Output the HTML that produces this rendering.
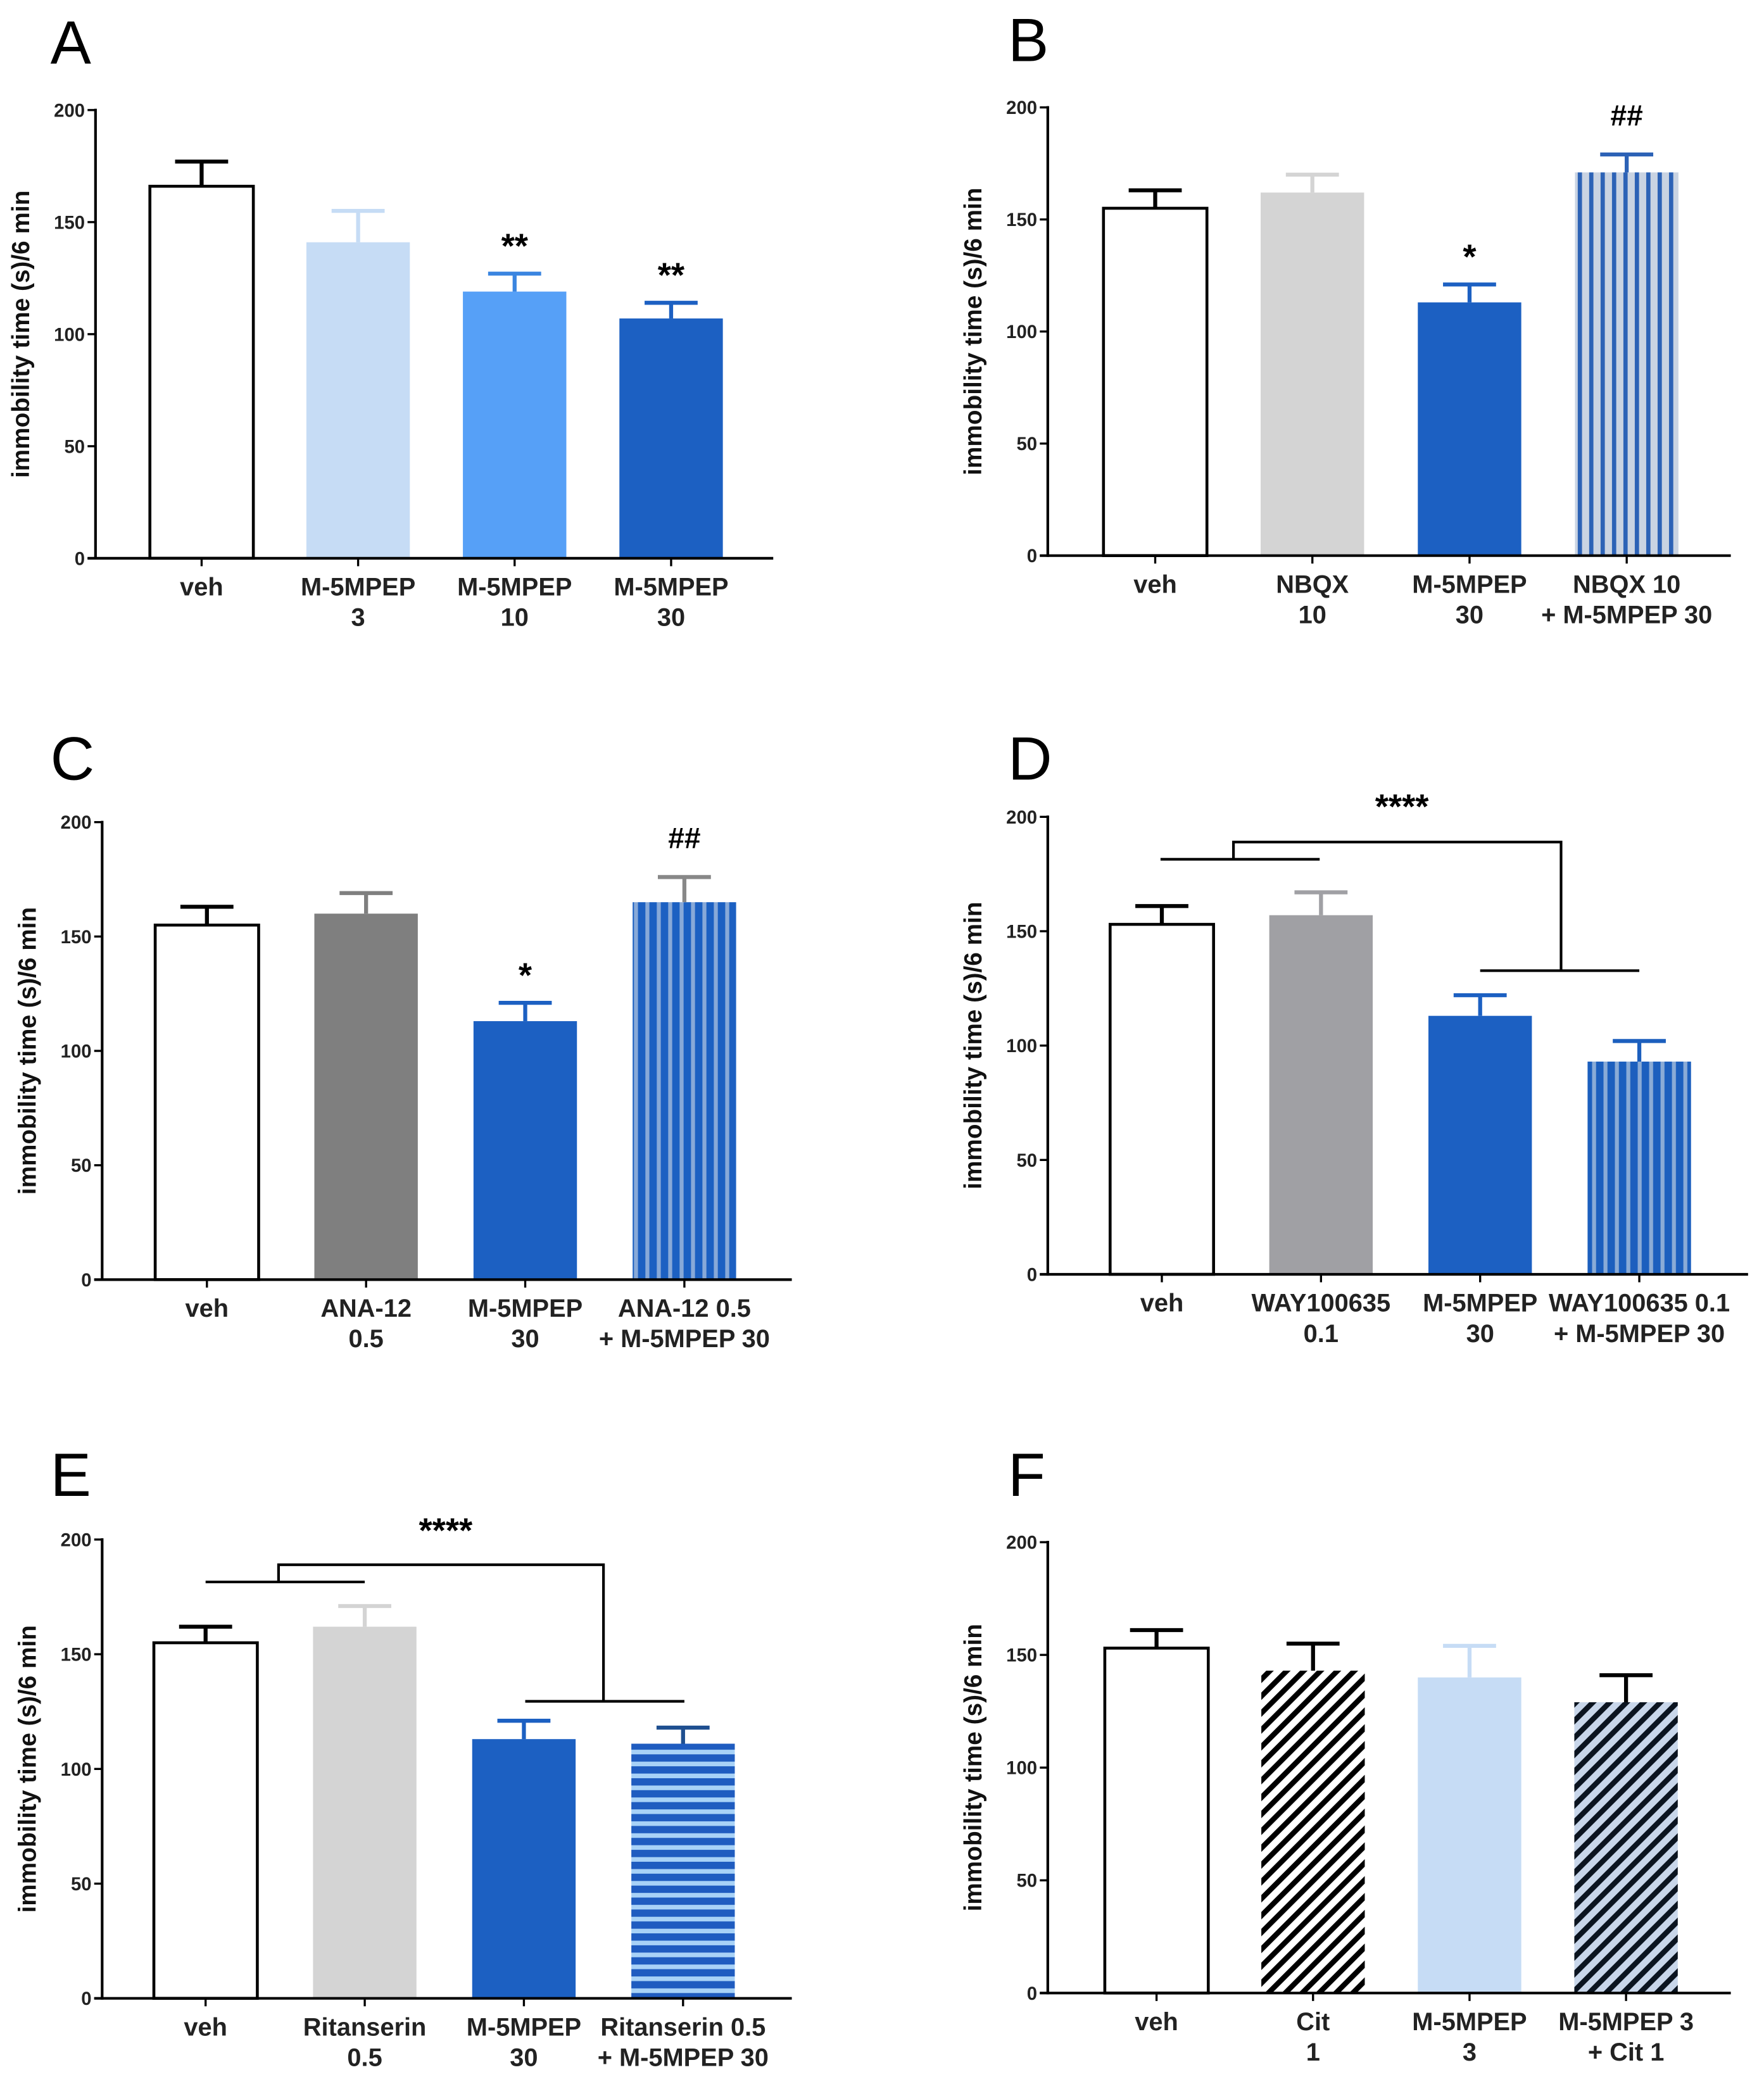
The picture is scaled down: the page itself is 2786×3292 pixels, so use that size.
<!DOCTYPE html>
<html><head><meta charset="utf-8"><style>
html,body{margin:0;padding:0;background:#fff;}
svg{display:block;}
text{font-family:"Liberation Sans",sans-serif;}
</style></head><body>
<svg id="fig" xmlns="http://www.w3.org/2000/svg" width="2786" height="3292" viewBox="0 0 1330 1571.6">
<defs>
<pattern id="pB" patternUnits="userSpaceOnUse" width="8.6" height="10"><rect width="8.6" height="10" fill="#c9d3e2"/><rect x="2.8" width="3.2" height="10" fill="#2c62b6"/></pattern>
<pattern id="pC" patternUnits="userSpaceOnUse" width="8.6" height="10"><rect width="8.6" height="10" fill="#1c60c2"/><rect x="5" width="3" height="10" fill="#88a9d8"/></pattern>
<pattern id="pD" patternUnits="userSpaceOnUse" width="8.6" height="10"><rect width="8.6" height="10" fill="#1c5fbe"/><rect x="5" width="3" height="10" fill="#8aabd6"/></pattern>
<pattern id="pE" patternUnits="userSpaceOnUse" width="10" height="9"><rect width="10" height="9" fill="#1f5cc0"/><rect y="5.5" width="10" height="3.5" fill="#a8d2f7"/></pattern>
<pattern id="pF1" patternUnits="userSpaceOnUse" width="9" height="9" patternTransform="rotate(45)"><rect width="9" height="9" fill="#fff"/><rect width="4" height="9" fill="#000"/></pattern>
<pattern id="pF2" patternUnits="userSpaceOnUse" width="9" height="9" patternTransform="rotate(45)"><rect width="9" height="9" fill="#c8d6ea"/><rect width="4" height="9" fill="#0b1420"/></pattern>
</defs>
</svg>
<script>
// ---- data ----
const catsA = [["veh"],["M-5MPEP","3"],["M-5MPEP","10"],["M-5MPEP","30"]];
const valsA = [166, 141, 119, 107];
const errsA = [11, 14, 8, 7];
const catsB = [["veh"],["NBQX","10"],["M-5MPEP","30"],["NBQX 10","+ M-5MPEP 30"]];
const valsB = [155, 162, 113, 171];
const errsB = [8, 8, 8, 8];
const catsC = [["veh"],["ANA-12","0.5"],["M-5MPEP","30"],["ANA-12 0.5","+ M-5MPEP 30"]];
const valsC = [155, 160, 113, 165];
const errsC = [8, 9, 8, 11];
const catsD = [["veh"],["WAY100635","0.1"],["M-5MPEP","30"],["WAY100635 0.1","+ M-5MPEP 30"]];
const valsD = [153, 157, 113, 93];
const errsD = [8, 10, 9, 9];
const catsE = [["veh"],["Ritanserin","0.5"],["M-5MPEP","30"],["Ritanserin 0.5","+ M-5MPEP 30"]];
const valsE = [155, 162, 113, 111];
const errsE = [7, 9, 8, 7];
const catsF = [["veh"],["Cit","1"],["M-5MPEP","3"],["M-5MPEP 3","+ Cit 1"]];
const valsF = [153, 143, 140, 129];
const errsF = [8, 12, 14, 12];
const sigA = ["", "", "**", "**"];
const sigB = ["", "", "*", "##"];
const sigC = ["", "", "*", "##"];
const yTicks = [0, 50, 100, 150, 200];

// ---- layout ----
const NS = "http://www.w3.org/2000/svg";
const svg = document.getElementById("fig");
function mk(tag, attrs, parent){const e=document.createElementNS(NS,tag);for(const k in attrs)e.setAttribute(k,attrs[k]);(parent||svg).appendChild(e);return e;}

const panels = [
 {id:"a",L:"A",lx:38,ly:48,ax:72,y0:421,y200:83,xEnd:583,c0:80,step:118,cats:catsA,vals:valsA,errs:errsA,sig:sigA,
  fill:["#fff","#c6dcf5","#56a0f7","#1c60c2"],stroke:["#000",null,null,null],ec:["#000","#c6dcf5","#3a85e0","#1c60c2"]},
 {id:"b",L:"B",lx:760,ly:46,ax:790,y0:419,y200:81,xEnd:1305,c0:81,step:118.5,cats:catsB,vals:valsB,errs:errsB,sig:sigB,
  fill:["#fff","#d4d4d4","#1c60c2","url(#pB)"],stroke:["#000",null,null,null],ec:["#000","#d4d4d4","#1c60c2","#2c62b6"]},
 {id:"c",L:"C",lx:38,ly:588,ax:77,y0:965,y200:620,xEnd:597,c0:79,step:120,cats:catsC,vals:valsC,errs:errsC,sig:sigC,
  fill:["#fff","#7f7f7f","#1c60c2","url(#pC)"],stroke:["#000",null,null,null],ec:["#000","#7f7f7f","#1c60c2","#888"]},
 {id:"d",L:"D",lx:760,ly:588,ax:790,y0:961,y200:616,xEnd:1318,c0:86,step:120,cats:catsD,vals:valsD,errs:errsD,sig:null,
  fill:["#fff","#a0a0a4","#1c60c2","url(#pD)"],stroke:["#000",null,null,null],ec:["#000","#a0a0a4","#1c60c2","#1c5fbe"],
  br:{l1:[875,995],yl:648,vx1:930,yt:635,vx2:1177,yr:732,r1:[1116,1236],sx:1057,sy:617}},
 {id:"e",L:"E",lx:38,ly:1128,ax:77,y0:1507,y200:1161,xEnd:597,c0:78,step:120,cats:catsE,vals:valsE,errs:errsE,sig:null,
  fill:["#fff","#d4d4d4","#1c60c2","url(#pE)"],stroke:["#000",null,null,null],ec:["#000","#d4d4d4","#1c60c2","#1f4f90"],
  br:{l1:[155,275],yl:1193,vx1:210,yt:1180,vx2:455,yr:1283,r1:[396,516],sx:336,sy:1163}},
 {id:"f",L:"F",lx:760,ly:1128,ax:790,y0:1503,y200:1163,xEnd:1305,c0:82,step:118,cats:catsF,vals:valsF,errs:errsF,sig:null,
  fill:["#fff","url(#pF1)","#c6dcf5","url(#pF2)"],stroke:["#000",null,null,null],ec:["#000","#000","#c6dcf5","#000"]}
];

panels.forEach(p=>{
  const g = mk("g",{});
  
  
  const yS = v => p.y0 - (v/200)*(p.y0-p.y200);
  const xS = i => p.ax + p.c0 + i*p.step;
  const bw = 78;
  const lt = mk("text",{x:p.lx,y:p.ly,"font-size":46,fill:"#000"},g); lt.textContent=p.L;
  
  
  p.vals.forEach((v,i)=>{
    const cx=xS(i), top=yS(v);
    const r = mk("rect",{x:cx-bw/2,y:top,width:bw,height:p.y0-top,fill:p.fill[i]},g);
    if(p.stroke[i]){r.setAttribute("stroke",p.stroke[i]);r.setAttribute("stroke-width",2.2);}
    
    
    const et = yS(v+p.errs[i]);
    const eg = mk("path",{d:`M${cx},${top} V${et} M${cx-20},${et} H${cx+20}`,stroke:p.ec[i],"stroke-width":3,fill:"none"},g);
    
    
    if(p.sig && p.sig[i]){
      const s = mk("text",{x:cx,y:et-(p.sig[i][0]=="#"?22:12),"font-size":p.sig[i][0]=="#"?22:26,"font-weight":"bold","text-anchor":"middle"},g);
      s.textContent=p.sig[i];
      
      
    }
    mk("line",{x1:cx,x2:cx,y1:p.y0,y2:p.y0+6,stroke:"#000","stroke-width":1.6},g);
    p.cats[i].forEach((t,k)=>{
      const tx = mk("text",{x:cx,y:p.y0+28+k*23,"font-size":19,"font-weight":"bold","text-anchor":"middle",fill:"#222"},g);
      tx.textContent=t;
      
      
    });
  });
  const ya = mk("line",{x1:p.ax,x2:p.ax,y1:p.y200-1,y2:p.y0+1,stroke:"#000","stroke-width":2},g);
  
  
  const xa = mk("line",{x1:p.ax-6,x2:p.xEnd,y1:p.y0,y2:p.y0,stroke:"#000","stroke-width":2},g);
  
  
  yTicks.forEach(t=>{
    const y=yS(t);
    mk("line",{x1:p.ax-6,x2:p.ax,y1:y,y2:y,stroke:"#000","stroke-width":1.6},g);
    const tl = mk("text",{x:p.ax-8,y:y+5,"font-size":14,"font-weight":"bold","text-anchor":"end",fill:"#222"},g);
    tl.textContent=t;
    
    
  });
  const ym=(p.y0+p.y200)/2;
  const yt = mk("text",{x:0,y:0,"font-size":18.5,"font-weight":"bold","text-anchor":"middle",transform:`translate(${p.ax-50},${ym}) rotate(-90)`,fill:"#111"},g);
  yt.textContent="immobility time (s)/6 min";
  
  
  if(p.br){
    const b=p.br;
    const bp = mk("path",{d:`M${b.l1[0]},${b.yl} H${b.l1[1]} M${b.vx1},${b.yl} V${b.yt} H${b.vx2} V${b.yr} M${b.r1[0]},${b.yr} H${b.r1[1]}`,stroke:"#000","stroke-width":2,fill:"none"},g);
    
    
    const st = mk("text",{x:b.sx,y:b.sy,"font-size":26,"font-weight":"bold","text-anchor":"middle"},g);
    st.textContent="****";
    
    
  }
});
</script>
</body></html>
